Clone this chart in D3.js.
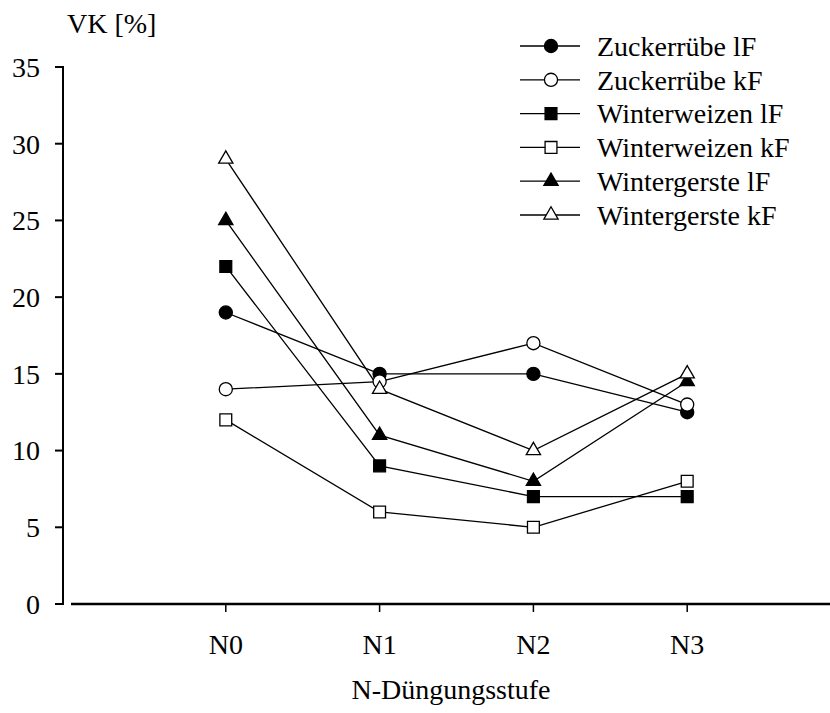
<!DOCTYPE html>
<html><head><meta charset="utf-8"><script src="https://cdn.jsdelivr.net/npm/d3@7"></script></head>
<body style="margin:0">
<svg id="chart" width="830" height="713"></svg>
<script>
// N fertilisation levels
const levels = ["N0", "N1", "N2", "N3"];
const yTicks = [0, 5, 10, 15, 20, 25, 30, 35];

// Coefficient of variation (VK, %) per crop and fertilisation form
const seriesNames = [
  "Zuckerrübe lF", "Zuckerrübe kF",
  "Winterweizen lF", "Winterweizen kF",
  "Wintergerste lF", "Wintergerste kF"
];
const zuckerrubeLF   = [19, 15, 15, 12.5];
const zuckerrubeKF   = [14, 14.5, 17, 13];
const winterweizenLF = [22, 9, 7, 7];
const winterweizenKF = [12, 6, 5, 8];
const wintergersteLF = [25, 11, 8, 14.5];
const wintergersteKF = [29, 14, 10, 15];
const seriesValues = [zuckerrubeLF, zuckerrubeKF, winterweizenLF, winterweizenKF, wintergersteLF, wintergersteKF];

// marker shape and fill for each series
const shapes = [d3.symbolCircle, d3.symbolCircle, d3.symbolSquare, d3.symbolSquare, d3.symbolTriangle, d3.symbolTriangle];
const filled = [true, false, true, false, true, false];
const sizes = { circle: 135, square: 140, triangle: 88 };
function symbolSize(s) {
  return s === d3.symbolCircle ? sizes.circle : s === d3.symbolSquare ? sizes.square : sizes.triangle;
}

const svg = d3.select("#chart");

const x = d3.scalePoint().domain(levels).range([72, 841]).padding(1);
const y = d3.scaleLinear().domain([0, 35]).range([604, 67]);

function addText(parent, str, xPos, yPos, anchor, dy) {
  return parent.append("text")
    .attr("x", xPos).attr("y", yPos)
    .attr("dy", dy || 0)
    .attr("text-anchor", anchor || "start")
    .attr("font-size", 28)
    .style("font-family", `"Liberation Serif", serif`)
    .text(str);
}

// y axis: ticks pointing left, line from 0 to 35
const yAxis = svg.append("g").attr("transform", "translate(63,0)");
yAxis.append("line")
  .attr("x1", 0).attr("x2", 0)
  .attr("y1", y(0) + 1).attr("y2", y(35) - 1)
  .attr("stroke", "#000").attr("stroke-width", 2);
yTicks.forEach(t => {
  yAxis.append("line")
    .attr("x1", -8).attr("x2", 0)
    .attr("y1", y(t)).attr("y2", y(t))
    .attr("stroke", "#000").attr("stroke-width", 2);
  addText(yAxis, t, -23, y(t), "end", "0.35em");
});

// x axis: separate baseline starting right of the y axis
const xAxis = svg.append("g").attr("transform", `translate(0,${y(0)})`);
xAxis.append("line")
  .attr("x1", 71).attr("x2", 830)
  .attr("y1", 0).attr("y2", 0)
  .attr("stroke", "#000").attr("stroke-width", 2.5);
levels.forEach(l => {
  xAxis.append("line")
    .attr("x1", x(l)).attr("x2", x(l))
    .attr("y1", 0).attr("y2", 8)
    .attr("stroke", "#000").attr("stroke-width", 1.5);
  addText(xAxis, l, x(l), 50, "middle");
});

// axis titles
addText(svg, "VK [%]", 67, 33);
addText(svg, "N-Düngungsstufe", 451, 699, "middle");

// series lines
const line = d3.line().x((d, i) => x(levels[i])).y(d => y(d));
svg.append("g").selectAll("path").data(seriesValues).enter().append("path")
  .attr("d", d => line(d))
  .attr("fill", "none")
  .attr("stroke", "#000")
  .attr("stroke-width", 1.3);

// series markers
seriesValues.forEach((vals, si) => {
  const sym = d3.symbol().type(shapes[si]).size(symbolSize(shapes[si]));
  svg.append("g").selectAll("path").data(vals).enter().append("path")
    .attr("transform", (d, i) => `translate(${x(levels[i])},${y(d)})`)
    .attr("d", sym)
    .attr("fill", filled[si] ? "#000" : "#fff")
    .attr("stroke", "#000")
    .attr("stroke-width", 1.3);
});

// legend
const rowY = i => 46 + i * 33.8;
seriesNames.forEach((name, i) => {
  const g = svg.append("g").attr("transform", `translate(0,${rowY(i)})`);
  g.append("line")
    .attr("x1", 520).attr("x2", 580)
    .attr("y1", 0).attr("y2", 0)
    .attr("stroke", "#000").attr("stroke-width", 1.3);
  g.append("path")
    .attr("transform", "translate(551,0)")
    .attr("d", d3.symbol().type(shapes[i]).size(symbolSize(shapes[i])))
    .attr("fill", filled[i] ? "#000" : "#fff")
    .attr("stroke", "#000")
    .attr("stroke-width", 1.3);
  addText(g, name, 597, 0, "start", "0.35em");
});
</script>
</body>
</html>
